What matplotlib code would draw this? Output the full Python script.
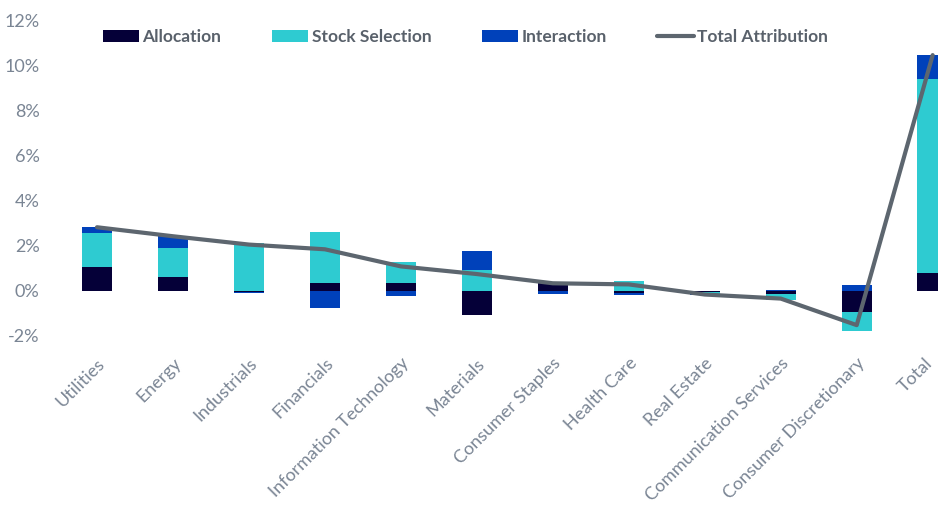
import numpy as np
import matplotlib
matplotlib.use("Agg")
from matplotlib import pyplot as plt
from matplotlib import transforms

# Sector attribution data (in %)
sectors = ["Utilities", "Energy", "Industrials", "Financials", "Information Technology",
           "Materials", "Consumer Staples", "Health Care", "Real Estate",
           "Communication Services", "Consumer Discretionary", "Total"]
allocation = [1.04, 0.62, -0.06, 0.33, 0.33, -1.07, 0.37, -0.12, -0.06, -0.16, -0.96, 0.77]
stock_selection = [1.51, 1.29, 2.11, 2.29, 0.93, 0.90, 0.00, 0.45, -0.10, -0.25, -0.82, 8.62]
interaction = [0.27, 0.52, -0.05, -0.78, -0.22, 0.88, -0.14, -0.05, -0.02, 0.05, 0.25, 1.08]
total_attribution = [2.82, 2.42, 2.05, 1.84, 1.08, 0.74, 0.33, 0.28, -0.17, -0.35, -1.53, 10.47]
yticks = [-2, 0, 2, 4, 6, 8, 10, 12]

c_alloc = "#050038"
c_sel = "#2ECBD1"
c_int = "#0041BA"
c_line = "#5D666F"
c_text = "#7A8594"

plt.rcParams['font.family'] = ['Lato', 'DejaVu Sans']

fig = plt.figure(figsize=(9.38, 5.29), dpi=100)
ax = fig.add_axes([0.0629, 0.3654, 0.9371, 0.5955])

x = np.arange(len(sectors))
series = [allocation, stock_selection, interaction]
colors = [c_alloc, c_sel, c_int]
names = ["Allocation", "Stock Selection", "Interaction"]

# stack positives upward and negatives downward, like Excel does
pos_base = np.zeros(len(x))
neg_base = np.zeros(len(x))
for vals, col, name in zip(series, colors, names):
    vals = np.array(vals)
    base = np.where(vals >= 0, pos_base, neg_base)
    ax.bar(x, vals, width=0.4, bottom=base, color=col, label=name, zorder=2)
    pos_base = pos_base + np.where(vals >= 0, vals, 0)
    neg_base = neg_base + np.where(vals < 0, vals, 0)

ax.plot(x, total_attribution, color=c_line, linewidth=3, label="Total Attribution",
        zorder=3, solid_capstyle="round")

ax.set_xlim(-0.5, 11.07)
ax.set_ylim(-2, 12)
ax.set_yticks(yticks)
ax.set_yticklabels([str(t) + "%" for t in yticks], color=c_text, fontsize=13)
ax.set_xticks(x)
ax.set_xticklabels(sectors, rotation=45, ha="right", rotation_mode="anchor",
                   color=c_text, fontsize=13)
ax.tick_params(axis="both", length=0)
ax.tick_params(axis="y", pad=14)
ax.tick_params(axis="x", pad=14)
for s in ax.spines.values():
    s.set_visible(False)

# nudge the last label so it stays inside the figure edge
last = ax.get_xticklabels()[-1]
last.set_transform(last.get_transform() + transforms.ScaledTranslation(-6 / 72, 0, fig.dpi_scale_trans))

handles, labels = ax.get_legend_handles_labels()
order = [1, 2, 3, 0]
leg = fig.legend([handles[i] for i in order], [labels[i] for i in order],
                 loc="center", bbox_to_anchor=(0.496, 0.930), ncol=4, frameon=False,
                 handlelength=2.1, handletextpad=0.2, columnspacing=2.9,
                 prop={"weight": "bold", "size": 12.5})
for t in leg.get_texts():
    t.set_color("#59616B")

fig.savefig("out.png", dpi=100)
